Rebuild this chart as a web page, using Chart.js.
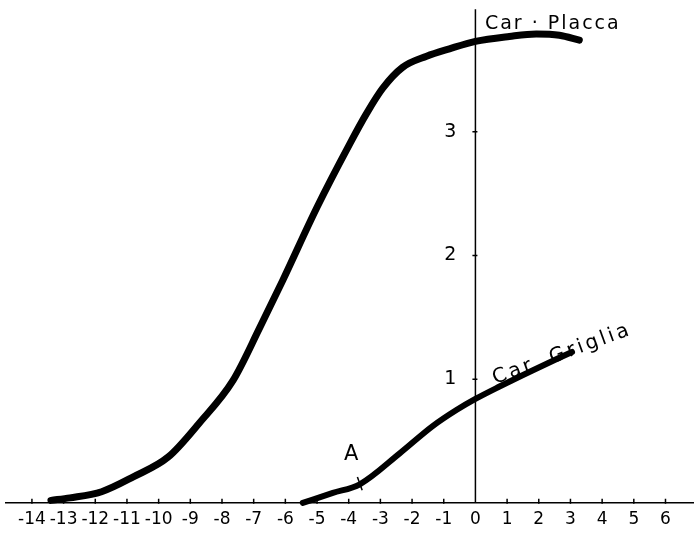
<!DOCTYPE html>
<html>
<head>
<meta charset="utf-8">
<script src="https://cdn.jsdelivr.net/npm/chart.js@4.4.1/dist/chart.umd.min.js"></script>
<style>
html,body{margin:0;padding:0;background:#fff;}
#wrap{width:694px;height:535px;}
</style>
</head>
<body>
<div id="wrap"><canvas id="c" width="694" height="535"></canvas></div>
<script>
// Data
const xTicks = [-14,-13,-12,-11,-10,-9,-8,-7,-6,-5,-4,-3,-2,-1,0,1,2,3,4,5,6];
const yTicks = [1,2,3];
const placcaX = [-13.4,-12.8,-11.8,-10.8,-9.7,-8.7,-7.65,-6.8,-6.08,-5.0,-3.97,-3.43,-2.93,-2.3,-1.54,-0.82,0,1.07,1.92,2.65,3.28];
const placcaY = [0.02,0.04,0.09,0.21,0.37,0.65,0.99,1.42,1.80,2.39,2.90,3.15,3.35,3.52,3.61,3.67,3.73,3.77,3.79,3.78,3.74];
const grigliaX = [-5.45,-4.5,-3.65,-2.39,-1.35,-0.6,0,0.76,1.8,3.05];
const grigliaY = [0.0,0.08,0.15,0.40,0.62,0.75,0.84,0.94,1.07,1.22];
const pointA = {x:-3.65, y:0.155};

const toPts = (xs, ys) => xs.map((x,i)=>({x:x, y:ys[i]}));
const zeroPad = s => { s.paddingTop = 0; s.paddingBottom = 0; s.paddingLeft = 0; s.paddingRight = 0; };

const annot = {
  id:'annot',
  afterDraw(chart){
    const ctx = chart.ctx, xs = chart.scales.x, ys = chart.scales.y;
    const x0 = xs.getPixelForValue(0), y0 = ys.getPixelForValue(0);
    ctx.save();
    ctx.strokeStyle = '#000';
    ctx.lineWidth = 1.5;
    ctx.beginPath();
    ctx.moveTo(chart.chartArea.left, y0); ctx.lineTo(chart.chartArea.right, y0);
    ctx.moveTo(x0, ys.getPixelForValue(3.99)); ctx.lineTo(x0, y0);
    ctx.stroke();
    ctx.beginPath();
    xTicks.forEach(v=>{ if(v!==0){const p=xs.getPixelForValue(v); ctx.moveTo(p,y0-4); ctx.lineTo(p,y0+1);} });
    yTicks.forEach(v=>{ const p=ys.getPixelForValue(v); ctx.moveTo(x0-3,p); ctx.lineTo(x0+2,p); });
    ctx.stroke();
    ctx.fillStyle = '#000';
    ctx.textBaseline = 'alphabetic';
    ctx.font = '19px "DejaVu Sans"';
    ctx.letterSpacing = '2px';
    ctx.fillText('Car · Placca', xs.getPixelForValue(0.3), ys.getPixelForValue(3.83));
    ctx.font = '21px "DejaVu Sans"';
    ctx.letterSpacing = '0px';
    ctx.fillText('A', xs.getPixelForValue(-4.15), ys.getPixelForValue(0.35));
    ctx.save();
    ctx.translate(xs.getPixelForValue(0.62), ys.getPixelForValue(0.96));
    ctx.rotate(-20*Math.PI/180);
    ctx.font = '20px "DejaVu Sans"';
    ctx.letterSpacing = '3px';
    ctx.fillText('Car. Griglia', 0, 0);
    ctx.restore();
    ctx.restore();
  }
};

new Chart(document.getElementById('c'), {
  type:'scatter',
  data:{
    datasets:[
      {label:'Car. Placca', data:toPts(placcaX, placcaY), showLine:true, borderColor:'#000', backgroundColor:'#000', borderWidth:7, pointRadius:0, cubicInterpolationMode:'monotone', borderCapStyle:'round'},
      {label:'Car. Griglia', data:toPts(grigliaX, grigliaY), showLine:true, borderColor:'#000', backgroundColor:'#000', borderWidth:6, pointRadius:0, cubicInterpolationMode:'monotone', borderCapStyle:'round'},
      {label:'A', data:[pointA], showLine:false, pointStyle:'line', rotation:70, pointRadius:7, borderColor:'#000', borderWidth:1.5}
    ]
  },
  options:{
    responsive:false,
    animation:false,
    layout:{autoPadding:false, padding:{left:5, top:8, right:0, bottom:0}},
    plugins:{legend:{display:false}, tooltip:{enabled:false}},
    scales:{
      x:{
        type:'linear', min:-14.85, max:6.9,
        position:{y:0},
        afterBuildTicks: s => { s.ticks = xTicks.map(v=>({value:v})); },
        afterFit: s => { s.height = 0; zeroPad(s); },
        grid:{display:false, drawTicks:false}, border:{display:false},
        ticks:{color:'#000', font:{family:'DejaVu Sans', size:17}, padding:7, maxRotation:0, autoSkip:false,
          callback: v => String(v)}
      },
      y:{
        type:'linear', min:-0.26, max:4.0,
        position:{x:0},
        afterBuildTicks: s => { s.ticks = yTicks.map(v=>({value:v})); },
        afterFit: s => { s.width = 0; zeroPad(s); },
        grid:{display:false, drawTicks:false}, border:{display:false},
        ticks:{color:'#000', font:{family:'DejaVu Sans', size:19}, padding:0, autoSkip:false,
          callback: v => v + '\u2003'}
      }
    }
  },
  plugins:[annot]
});
</script>
</body>
</html>
